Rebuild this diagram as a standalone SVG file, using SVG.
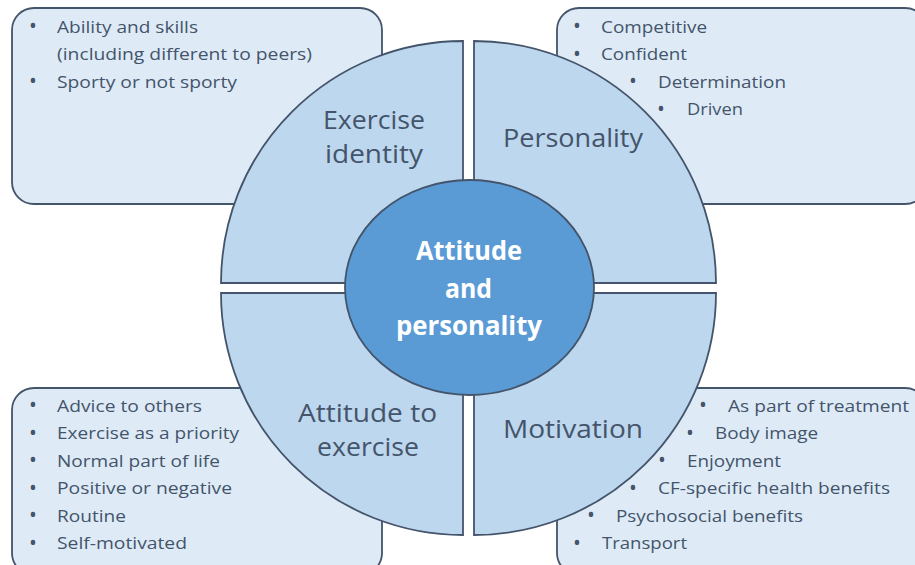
<svg xmlns="http://www.w3.org/2000/svg" width="915" height="565" viewBox="0 0 915 565">
<style>
.box{fill:#deebf7;stroke:#44546a;stroke-width:1.8}
.quad{fill:#bdd7ee;stroke:#44546a;stroke-width:1.8}
.hub{fill:#5b9bd5;stroke:#44546a;stroke-width:1.8}
.t{font-family:"Open Sans","Liberation Sans",sans-serif;font-size:17px;fill:#44546a}
.b{font-family:"Open Sans","Liberation Sans",sans-serif;font-size:21px;fill:#44546a;text-anchor:middle}
.lab{font-family:"Open Sans","Liberation Sans",sans-serif;font-size:26px;fill:#44546a}
.ctr{font-family:"Open Sans","Liberation Sans",sans-serif;font-size:27px;font-weight:bold;fill:#ffffff}
</style>
<rect width="915" height="565" fill="#ffffff"/>
<g id="connectors"></g>
<g id="box-identity">
<rect class="box" x="12" y="8" width="370" height="196" rx="22"/>
<text class="b" x="33" y="33">•</text>
<text class="t" x="57" y="32.5" textLength="141" lengthAdjust="spacingAndGlyphs">Ability and skills</text>
<text class="t" x="57" y="60" textLength="255" lengthAdjust="spacingAndGlyphs">(including different to peers)</text>
<text class="b" x="33" y="88">•</text>
<text class="t" x="57" y="87.5" textLength="180" lengthAdjust="spacingAndGlyphs">Sporty or not sporty</text>
</g>
<g id="box-personality">
<rect class="box" x="557" y="8" width="370" height="196" rx="22"/>
<text class="b" x="577" y="33">•</text>
<text class="t" x="601" y="32.5" textLength="106" lengthAdjust="spacingAndGlyphs">Competitive</text>
<text class="b" x="577" y="60.5">•</text>
<text class="t" x="601" y="60" textLength="86" lengthAdjust="spacingAndGlyphs">Confident</text>
<text class="b" x="633" y="88">•</text>
<text class="t" x="658" y="87.5" textLength="128" lengthAdjust="spacingAndGlyphs">Determination</text>
<text class="b" x="661" y="115.5">•</text>
<text class="t" x="687" y="115" textLength="56" lengthAdjust="spacingAndGlyphs">Driven</text>
</g>
<g id="box-attitude">
<rect class="box" x="12" y="388" width="370" height="187" rx="22"/>
<text class="b" x="33" y="412">•</text>
<text class="t" x="57" y="411.5" textLength="145" lengthAdjust="spacingAndGlyphs">Advice to others</text>
<text class="b" x="33" y="439.5">•</text>
<text class="t" x="57" y="439" textLength="182" lengthAdjust="spacingAndGlyphs">Exercise as a priority</text>
<text class="b" x="33" y="467">•</text>
<text class="t" x="57" y="466.5" textLength="163" lengthAdjust="spacingAndGlyphs">Normal part of life</text>
<text class="b" x="33" y="494.5">•</text>
<text class="t" x="57" y="494" textLength="175" lengthAdjust="spacingAndGlyphs">Positive or negative</text>
<text class="b" x="33" y="522">•</text>
<text class="t" x="57" y="521.5" textLength="69" lengthAdjust="spacingAndGlyphs">Routine</text>
<text class="b" x="33" y="549.5">•</text>
<text class="t" x="57" y="549" textLength="130" lengthAdjust="spacingAndGlyphs">Self-motivated</text>
</g>
<g id="box-motivation">
<rect class="box" x="557" y="388" width="370" height="187" rx="22"/>
<text class="b" x="703" y="412">•</text>
<text class="t" x="728" y="411.5" textLength="181" lengthAdjust="spacingAndGlyphs">As part of treatment</text>
<text class="b" x="690" y="439.5">•</text>
<text class="t" x="715" y="439" textLength="103" lengthAdjust="spacingAndGlyphs">Body image</text>
<text class="b" x="662" y="467">•</text>
<text class="t" x="687" y="466.5" textLength="94" lengthAdjust="spacingAndGlyphs">Enjoyment</text>
<text class="b" x="633" y="494.5">•</text>
<text class="t" x="658" y="494" textLength="232" lengthAdjust="spacingAndGlyphs">CF-specific health benefits</text>
<text class="b" x="591" y="522">•</text>
<text class="t" x="616" y="521.5" textLength="187" lengthAdjust="spacingAndGlyphs">Psychosocial benefits</text>
<text class="b" x="577" y="549.5">•</text>
<text class="t" x="602" y="549" textLength="85" lengthAdjust="spacingAndGlyphs">Transport</text>
</g>
<g id="quad-identity">
<path class="quad" d="M463,283 L221,283 A242,242 0 0 1 463,41 Z"/>
<text class="lab" x="323" y="129" textLength="102" lengthAdjust="spacingAndGlyphs">Exercise</text>
<text class="lab" x="325" y="163" textLength="98" lengthAdjust="spacingAndGlyphs">identity</text>
</g>
<g id="quad-personality">
<path class="quad" d="M474,283 L474,41 A242,242 0 0 1 716,283 Z"/>
<text class="lab" x="503" y="147" textLength="140" lengthAdjust="spacingAndGlyphs">Personality</text>
</g>
<g id="quad-attitude">
<path class="quad" d="M463,293 L463,535 A242,242 0 0 1 221,293 Z"/>
<text class="lab" x="298" y="422" textLength="139" lengthAdjust="spacingAndGlyphs">Attitude to</text>
<text class="lab" x="317" y="456" textLength="102" lengthAdjust="spacingAndGlyphs">exercise</text>
</g>
<g id="quad-motivation">
<path class="quad" d="M474,293 L716,293 A242,242 0 0 1 474,535 Z"/>
<text class="lab" x="503" y="438" textLength="140" lengthAdjust="spacingAndGlyphs">Motivation</text>
</g>
<g id="hub">
<ellipse class="hub" cx="469.5" cy="287.5" rx="124.5" ry="107.5"/>
<text class="ctr" x="416" y="260" textLength="106" lengthAdjust="spacingAndGlyphs">Attitude</text>
<text class="ctr" x="445" y="298" textLength="47" lengthAdjust="spacingAndGlyphs">and</text>
<text class="ctr" x="396" y="335" textLength="146" lengthAdjust="spacingAndGlyphs">personality</text>
</g>
</svg>
